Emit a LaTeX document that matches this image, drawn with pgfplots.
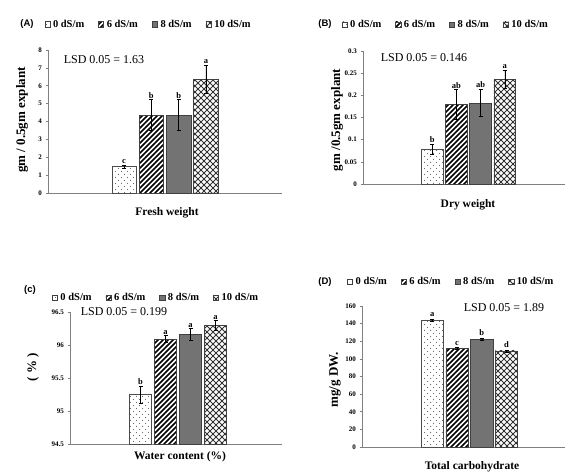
\documentclass[border=0pt]{standalone}
\usepackage{fontspec}
\setmainfont{Liberation Serif}
\newfontfamily\lsans{Liberation Sans}
\usepackage{pgfplots}
\pgfplotsset{compat=1.18}
\usetikzlibrary{patterns}

\pgfdeclarepatternformonly{sdots}{\pgfqpoint{-1pt}{-1pt}}{\pgfqpoint{7pt}{7pt}}{\pgfqpoint{6pt}{6pt}}{%
 \pgfpathcircle{\pgfqpoint{1.5pt}{1.5pt}}{0.5pt}\pgfpathcircle{\pgfqpoint{4.5pt}{4.5pt}}{0.5pt}\pgfusepath{fill}}
\pgfdeclarepatternformonly{diag}{\pgfqpoint{-1pt}{-1pt}}{\pgfqpoint{6pt}{6pt}}{\pgfqpoint{5pt}{5pt}}{%
 \pgfsetlinewidth{1.5pt}\pgfpathmoveto{\pgfqpoint{0pt}{0pt}}\pgfpathlineto{\pgfqpoint{5.1pt}{5.1pt}}\pgfusepath{stroke}}
\pgfdeclarepatternformonly{xhatch}{\pgfqpoint{-1pt}{-1pt}}{\pgfqpoint{7pt}{7pt}}{\pgfqpoint{6pt}{6pt}}{%
 \pgfsetlinewidth{1pt}\pgfpathmoveto{\pgfqpoint{0pt}{0pt}}\pgfpathlineto{\pgfqpoint{6.1pt}{6.1pt}}%
 \pgfpathmoveto{\pgfqpoint{0pt}{6pt}}\pgfpathlineto{\pgfqpoint{6.1pt}{-0.1pt}}\pgfusepath{stroke}}

\tikzset{lett/.style={font=\fontsize{8.5}{9}\selectfont\bfseries, anchor=south, inner sep=1pt}}

\pgfplotsset{
 panel/.style={scale only axis, anchor=south west,
  axis x line*=bottom, axis y line*=left,
  ybar, bar shift=0pt, bar width=0.9,
  xtick=\empty, clip=false,
  axis line style={gray, line width=0.9pt},
  y tick label style={font=\fontsize{7}{8}\selectfont\bfseries},
  ytick style={gray, line width=0.6pt},
  tick align=outside, major tick length=2.5pt,
  /pgf/number format/assume math mode=true,
  legend columns=4,
  legend style={draw=none, fill=none, anchor=center,
   font=\fontsize{10.5}{12}\selectfont\bfseries,
   /tikz/every even column/.append style={column sep=12pt},
   /tikz/every odd column/.append style={column sep=1pt}},
  legend image code/.code={\draw[##1,draw=black!75,line width=0.4pt] (0cm,-0.09cm) rectangle (0.18cm,0.09cm);},
  error bars/y dir=both, error bars/y explicit,
  error bars/error bar style={black, line width=0.6pt},
  error bars/error mark options={rotate=90, mark size=2pt, black, line width=0.6pt},
 },
 s0/.style={draw=black!70, line width=0.6pt, pattern=sdots, pattern color=black!70},
 s6/.style={draw=black!75, line width=0.6pt, pattern=diag},
 s8/.style={draw=black!75, line width=0.6pt, fill=black!55},
 s10/.style={draw=black!75, line width=0.6pt, pattern=xhatch, pattern color=black!80},
}

\begin{document}
\begin{tikzpicture}[x=1pt,y=1pt]
\useasboundingbox (0,0) rectangle (565,473);

% ---------- (A) ----------
\begin{axis}[panel, at={(48pt,280pt)}, width=234pt, height=143pt,
  xmin=-4.29, xmax=4.29, ymin=0, ymax=8, ytick={0,1,...,8},
  legend style={at={(0.43,1.18)}}]
\addplot[s0] coordinates {(-1.5,1.47) +- (0,0.10)};
\addplot[s6] coordinates {(-0.5,4.35) +- (0,0.87)};
\addplot[s8] coordinates {(0.5,4.35) +- (0,0.87)};
\addplot[s10] coordinates {(1.5,6.35) +- (0,0.80)};
\legend{0 dS/m, 6 dS/m, 8 dS/m, 10 dS/m}
\node[lett] at (axis cs:-1.5,1.57) {c};
\node[lett] at (axis cs:-0.5,5.22) {b};
\node[lett] at (axis cs:0.5,5.22) {b};
\node[lett] at (axis cs:1.5,7.15) {a};
\end{axis}

% ---------- (B) ----------
\begin{axis}[panel, at={(363pt,289pt)}, width=202pt, height=133pt,
  xmin=-4.35, xmax=3.98, ymin=0, ymax=0.3, ytick={0,0.05,...,0.3},
  yticklabels={0,0.05,0.1,0.15,0.2,0.25,0.3},
  legend style={at={(0.41,1.20)}}]
\addplot[s0] coordinates {(-1.5,0.079) +- (0,0.011)};
\addplot[s6] coordinates {(-0.5,0.180) +- (0,0.033)};
\addplot[s8] coordinates {(0.5,0.183) +- (0,0.031)};
\addplot[s10] coordinates {(1.5,0.236) +- (0,0.021)};
\legend{0 dS/m, 6 dS/m, 8 dS/m, 10 dS/m}
\node[lett] at (axis cs:-1.5,0.090) {b};
\node[lett] at (axis cs:-0.5,0.213) {ab};
\node[lett] at (axis cs:0.5,0.214) {ab};
\node[lett] at (axis cs:1.5,0.257) {a};
\end{axis}

% ---------- (C) ----------
\begin{axis}[panel, at={(70pt,29pt)}, width=212pt, height=132pt,
  xmin=-4.32, xmax=4.16, ymin=94.5, ymax=96.5, ytick={94.5,95,95.5,96,96.5},
  yticklabels={94.5,95,95.5,96,96.5},
  legend style={at={(0.406,1.106)}}]
\addplot[s0] coordinates {(-1.5,95.25) +- (0,0.13)};
\addplot[s6] coordinates {(-0.5,96.09) +- (0,0.05)};
\addplot[s8] coordinates {(0.5,96.16) +- (0,0.09)};
\addplot[s10] coordinates {(1.5,96.30) +- (0,0.07)};
\legend{0 dS/m, 6 dS/m, 8 dS/m, 10 dS/m}
\node[lett] at (axis cs:-1.5,95.38) {b};
\node[lett] at (axis cs:-0.5,96.14) {a};
\node[lett] at (axis cs:0.5,96.25) {a};
\node[lett] at (axis cs:1.5,96.37) {a};
\end{axis}

% ---------- (D) ----------
\begin{axis}[panel, at={(362pt,26pt)}, width=203pt, height=141pt,
  xmin=-4.34, xmax=3.86, ymin=0, ymax=160, ytick={0,20,...,160},
  legend style={at={(0.44,1.17)}}]
\addplot[s0] coordinates {(-1.5,144) +- (0,1.0)};
\addplot[s6] coordinates {(-0.5,112) +- (0,1.0)};
\addplot[s8] coordinates {(0.5,122) +- (0,1.0)};
\addplot[s10] coordinates {(1.5,109) +- (0,1.0)};
\legend{0 dS/m, 6 dS/m, 8 dS/m, 10 dS/m}
\node[lett] at (axis cs:-1.5,147) {a};
\node[lett] at (axis cs:-0.5,114) {c};
\node[lett] at (axis cs:0.5,125) {b};
\node[lett] at (axis cs:1.5,111) {d};
\end{axis}

% ---------- text ----------
\node[font=\lsans\fontsize{9.5}{10}\selectfont\bfseries] at (27,449) {(A)};
\node[font=\lsans\fontsize{9.5}{10}\selectfont\bfseries] at (325,449) {(B)};
\node[font=\lsans\fontsize{9.5}{10}\selectfont\bfseries] at (30,183) {(c)};
\node[font=\lsans\fontsize{9.5}{10}\selectfont\bfseries] at (325,191) {(D)};

\node[font=\fontsize{11.5}{12}\selectfont\bfseries] at (167,260) {Fresh weight};
\node[font=\fontsize{11.5}{12}\selectfont\bfseries] at (468,268) {Dry weight};
\node[font=\fontsize{11.5}{12}\selectfont\bfseries] at (180,16) {Water content (\%)};
\node[font=\fontsize{11.5}{12}\selectfont\bfseries] at (472,6) {Total carbohydrate};

\node[rotate=90, font=\fontsize{13}{14}\selectfont\bfseries] at (22,353) {gm / 0.5gm explant};
\node[rotate=90, font=\fontsize{13}{14}\selectfont\bfseries] at (337,353) {gm /0.5gm explant};
\node[rotate=90, font=\fontsize{13}{14}\selectfont\bfseries] at (33,106) {( \% )};
\node[rotate=90, font=\fontsize{13}{14}\selectfont\bfseries] at (335,93) {mg/g DW.};

\node[font=\fontsize{12}{13}\selectfont] at (104,413) {LSD 0.05 = 1.63};
\node[font=\fontsize{12}{13}\selectfont] at (424,415) {LSD 0.05 = 0.146};
\node[font=\fontsize{12}{13}\selectfont] at (124,161) {LSD 0.05 = 0.199};
\node[font=\fontsize{12}{13}\selectfont] at (504,165) {LSD 0.05 = 1.89};
\end{tikzpicture}
\end{document}
